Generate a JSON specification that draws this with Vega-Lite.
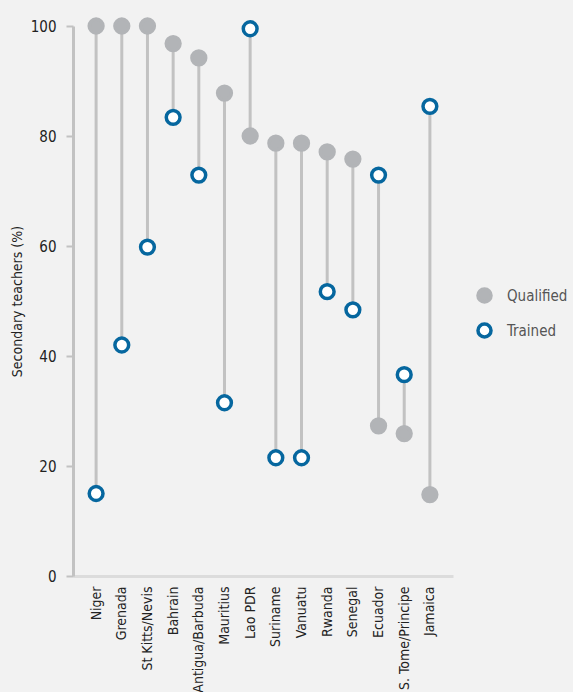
{
  "$schema": "https://vega.github.io/schema/vega-lite/v6.json",
  "width": 380,
  "height": 550,
  "autosize": {"type": "none"},
  "padding": {"left": 73, "top": 26, "right": 120, "bottom": 116},
  "background": "#f2f2f2",
  "config": {
    "view": {"stroke": null},
    "font": "DejaVu Sans Condensed, Roboto, sans-serif",
    "axis": {"grid": false, "labelFont": "DejaVu Sans Condensed, Roboto, sans-serif", "titleFont": "DejaVu Sans Condensed, Roboto, sans-serif"},
    "legend": {"labelFont": "DejaVu Sans Condensed, Roboto, sans-serif"}
  },
  "data": {
    "values": [
      {"country": "Niger", "Qualified": 100, "Trained": 15},
      {"country": "Grenada", "Qualified": 100, "Trained": 42},
      {"country": "St Kitts/Nevis", "Qualified": 100, "Trained": 59.8},
      {"country": "Bahrain", "Qualified": 96.8, "Trained": 83.4},
      {"country": "Antigua/Barbuda", "Qualified": 94.2, "Trained": 72.9},
      {"country": "Mauritius", "Qualified": 87.8, "Trained": 31.5},
      {"country": "Lao PDR", "Qualified": 80, "Trained": 99.5},
      {"country": "Suriname", "Qualified": 78.7, "Trained": 21.5},
      {"country": "Vanuatu", "Qualified": 78.7, "Trained": 21.5},
      {"country": "Rwanda", "Qualified": 77.1, "Trained": 51.7},
      {"country": "Senegal", "Qualified": 75.8, "Trained": 48.4},
      {"country": "Ecuador", "Qualified": 27.3, "Trained": 72.9},
      {"country": "S. Tome/Principe", "Qualified": 25.9, "Trained": 36.6},
      {"country": "Jamaica", "Qualified": 14.8, "Trained": 85.4}
    ]
  },
  "encoding": {
    "x": {
      "field": "country",
      "type": "nominal",
      "sort": null,
      "scale": {"type": "point", "padding": 0.9},
      "axis": {
        "title": null,
        "labelAngle": -90,
        "labelFontSize": 14,
        "labelColor": "#222222",
        "labelPadding": 10,
        "ticks": false,
        "domainColor": "#dcdcdc",
        "domainWidth": 3
      }
    }
  },
  "layer": [
    {
      "mark": {"type": "rule", "color": "#c2c2c2", "strokeWidth": 3},
      "encoding": {
        "y": {
          "field": "Qualified",
          "type": "quantitative",
          "scale": {"domain": [0, 100]},
          "axis": {
            "title": "Secondary teachers (%)",
            "titleFontSize": 14,
            "titleFontWeight": "normal",
            "titleColor": "#222222",
            "titlePadding": 6,
            "values": [0, 20, 40, 60, 80, 100],
            "labelFontSize": 15,
            "labelColor": "#222222",
            "labelPadding": 10,
            "tickSize": 7,
            "tickWidth": 2,
            "tickColor": "#c2c2c2",
            "domainColor": "#c2c2c2",
            "domainWidth": 3
          }
        },
        "y2": {"field": "Trained"}
      }
    },
    {
      "transform": [{"fold": ["Qualified", "Trained"], "as": ["series", "value"]}],
      "mark": {"type": "point", "shape": "circle", "filled": false, "strokeWidth": 3.5, "opacity": 1},
      "encoding": {
        "y": {"field": "value", "type": "quantitative"},
        "fill": {
          "field": "series",
          "type": "nominal",
          "scale": {"domain": ["Qualified", "Trained"], "range": ["#b2b4b7", "#ffffff"]},
          "legend": {
            "title": null,
            "orient": "none",
            "legendX": 403,
            "legendY": 261,
            "padding": 0,
            "labelFontSize": 15,
            "labelColor": "#555555",
            "labelOffset": 14,
            "rowPadding": 6,
            "symbolSize": 170,
            "symbolStrokeWidth": 3.5
          }
        },
        "stroke": {
          "field": "series",
          "type": "nominal",
          "scale": {"domain": ["Qualified", "Trained"], "range": ["#b2b4b7", "#06679f"]},
          "legend": {
            "title": null,
            "orient": "none",
            "legendX": 403,
            "legendY": 261,
            "padding": 0,
            "labelFontSize": 15,
            "labelColor": "#555555",
            "labelOffset": 14,
            "rowPadding": 6,
            "symbolSize": 170,
            "symbolStrokeWidth": 3.5
          }
        },
        "size": {"value": 190}
      }
    }
  ]
}
